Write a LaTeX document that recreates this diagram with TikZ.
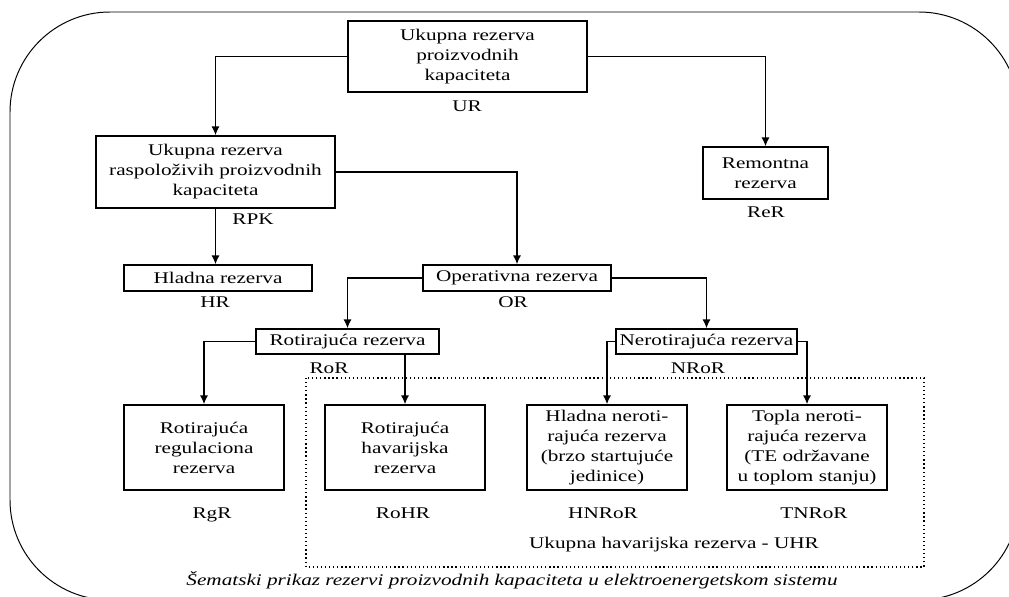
\documentclass[tikz,border=0pt]{standalone}
\usepackage{fontspec}
\setmainfont{Liberation Serif}[FakeStretch=1.3]
\usetikzlibrary{arrows.meta}
\tikzset{
  box/.style={draw, line width=1.1pt, align=center, inner sep=0pt},
  lbl/.style={inner sep=0pt, text height=7.6pt, text depth=0pt},
  link/.style={->, line width=0.9pt}
}
\begin{document}
\begin{tikzpicture}[x=0.025cm, y=-0.025cm, >={Latex[length=2.2mm,width=2mm]},
    every node/.style={font=\fontsize{11.6}{14.2}\selectfont}]
    \useasboundingbox (0,0) rectangle (1009,597);
    \clip (0,0) rectangle (1009,597);
    \draw[line width=0.7pt, rounded corners=2.5cm] (10,12) rectangle (1019,600);
    \draw[dotted, line width=0.9pt] (306,378) rectangle (924,567);

    \node[box, minimum width=5.975cm, minimum height=1.775cm] (ur) at (467.5,56.5) {Ukupna rezerva\\proizvodnih\\kapaciteta};
    \node[box, minimum width=5.975cm, minimum height=1.8cm] (rpk) at (215.5,172) {Ukupna rezerva\\raspoloživih proizvodnih\\kapaciteta};
    \node[box, minimum width=3.125cm, minimum height=1.3cm] (rer) at (765.5,173) {Remontna\\rezerva};
    \node[box, minimum width=4.7cm, minimum height=0.65cm] (hr) at (218,278) {Hladna rezerva};
    \node[box, minimum width=4.7cm, minimum height=0.65cm] (or) at (517,278) {Operativna rezerva};
    \node[box, minimum width=4.575cm, minimum height=0.625cm] (ror) at (347.5,341.5) {Rotirajuća rezerva};
    \node[box, minimum width=4.525cm, minimum height=0.625cm] (nror) at (706.5,341.5) {Nerotirajuća rezerva};
    \node[box, minimum width=4cm, minimum height=2.125cm] (rgr) at (204,447.5) {Rotirajuća\\regulaciona\\rezerva};
    \node[box, minimum width=4cm, minimum height=2.125cm] (rohr) at (405,447.5) {Rotirajuća\\havarijska\\rezerva};
    \node[box, minimum width=4cm, minimum height=2.125cm] (hnror) at (607,447.5) {Hladna neroti-\\rajuća rezerva\\(brzo startujuće\\jedinice)};
    \node[box, minimum width=4cm, minimum height=2.125cm] (tnror) at (807,447.5) {Topla neroti-\\rajuća rezerva\\(TE održavane\\u toplom stanju)};

    \node[lbl] (lur) at (467,106) {UR};
    \node[lbl] (lrpk) at (253,219) {RPK};
    \node[lbl] (lrer) at (766,212) {ReR};
    \node[lbl] (lhr) at (215,302) {HR};
    \node[lbl] (lor) at (513,302) {OR};
    \node[lbl] (lror) at (329,368) {RoR};
    \node[lbl] (lnror) at (698,368) {NRoR};
    \node[lbl] (lrgr) at (212,513) {RgR};
    \node[lbl] (lrohr) at (403,513) {RoHR};
    \node[lbl] (lhnror) at (603,513) {HNRoR};
    \node[lbl] (ltnror) at (814,513) {TNRoR};
    \node[lbl] (luhr) at (674,543) {Ukupna havarijska rezerva - UHR};
    \node[lbl] (caption) at (512,580) {\itshape Šematski prikaz rezervi proizvodnih kapaciteta u elektroenergetskom sistemu};

    \draw[link] (ur.west) -| (rpk.north);
    \draw[link] (ur.east) -| (rer.north);
    \draw[link] (rpk.south) -- (rpk.south |- hr.north);
    \draw[link] (rpk.east) -| (or.north);
    \draw[link] (or.west) -| (ror.north);
    \draw[link] (or.east) -| (nror.north);
    \draw[link] (ror.west) -| (rgr.north);
    \draw[link] (rohr.north |- ror.south) -- (rohr.north);
    \draw[link] (nror.west) -| (hnror.north);
    \draw[link] (nror.east) -| (tnror.north);
\end{tikzpicture}
\end{document}
